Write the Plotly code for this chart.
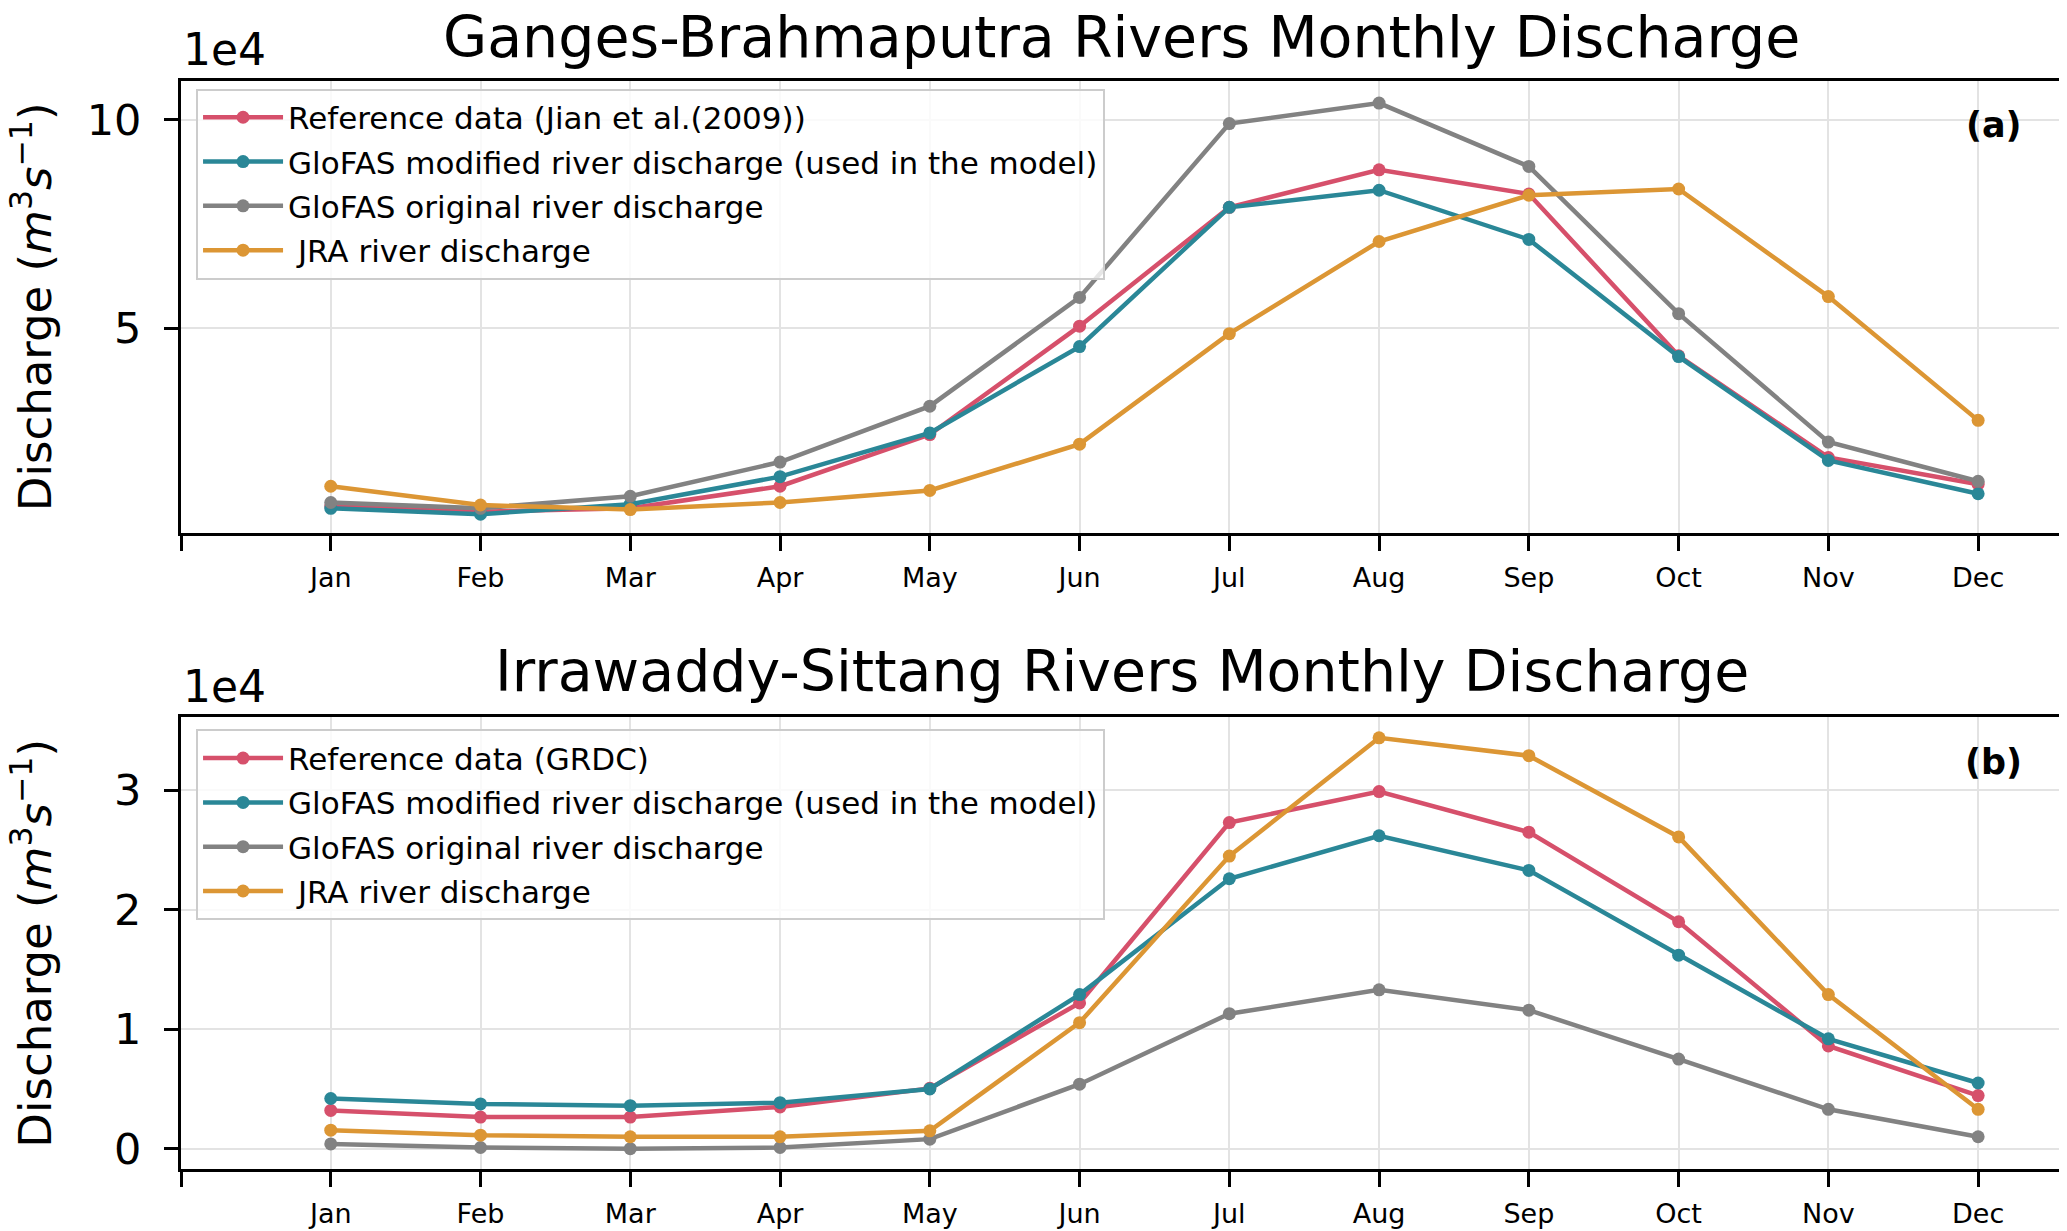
import plotly.graph_objects as go

# Monthly discharge, in units of 1e4 m3/s
months = ['Jan', 'Feb', 'Mar', 'Apr', 'May', 'Jun', 'Jul', 'Aug', 'Sep', 'Oct', 'Nov', 'Dec']

# (a) Ganges-Brahmaputra
gb_reference = [0.74, 0.60, 0.68, 1.21, 2.45, 5.05, 7.90, 8.80, 8.22, 4.34, 1.90, 1.26]
gb_glofas_mod = [0.68, 0.54, 0.78, 1.44, 2.49, 4.56, 7.90, 8.31, 7.13, 4.32, 1.83, 1.03]
gb_glofas_orig = [0.82, 0.68, 0.97, 1.79, 3.13, 5.74, 9.91, 10.40, 8.88, 5.35, 2.27, 1.33]
gb_jra = [1.21, 0.76, 0.65, 0.82, 1.11, 2.22, 4.87, 7.08, 8.19, 8.34, 5.76, 2.79]

# (b) Irrawaddy-Sittang
is_reference = [0.32, 0.265, 0.265, 0.35, 0.505, 1.22, 2.73, 2.99, 2.65, 1.90, 0.86, 0.445]
is_glofas_mod = [0.42, 0.375, 0.36, 0.385, 0.50, 1.29, 2.26, 2.62, 2.33, 1.62, 0.92, 0.55]
is_glofas_orig = [0.04, 0.01, 0.00, 0.01, 0.08, 0.54, 1.13, 1.33, 1.16, 0.75, 0.33, 0.10]
is_jra = [0.155, 0.113, 0.10, 0.10, 0.15, 1.055, 2.45, 3.44, 3.29, 2.61, 1.29, 0.33]

names_a = ['Reference data (Jian et al.(2009))',
           'GloFAS modified river discharge (used in the model)',
           'GloFAS original river discharge',
           ' JRA river discharge']
names_b = ['Reference data (GRDC)'] + names_a[1:]

colors = ['#d6506b', '#2a8797', '#828282', '#dc9634']
FONT = 'DejaVu Sans'
x = list(range(len(months)))

fig = go.Figure()

panels = [
    ('x', 'y', 'legend', 'a', names_a, [gb_reference, gb_glofas_mod, gb_glofas_orig, gb_jra]),
    ('x2', 'y2', 'legend2', 'b', names_b, [is_reference, is_glofas_mod, is_glofas_orig, is_jra]),
]
for xa, ya, leg, tag, names, data in panels:
    for i, (series, name, color) in enumerate(zip(data, names, colors)):
        # one legend group per line so tracegroupgap can open up the legend rows
        fig.add_trace(go.Scatter(
            x=x, y=series, name=name, mode='lines+markers',
            line=dict(color=color, width=4.5), marker=dict(color=color, size=13),
            xaxis=xa, yaxis=ya, legend=leg, legendgroup=f'{tag}{i}'
        ))

xaxis_common = dict(
    range=[-1, 11.56],
    tickvals=[-1] + x, ticktext=[''] + months,
    ticks='outside', ticklen=15, tickwidth=2.5, tickcolor='black',
    tickfont=dict(family=FONT, size=27, color='black'),
    ticklabelstandoff=4,
    showgrid=True, gridcolor='#e3e3e3', gridwidth=1.8,
    showline=True, linecolor='black', linewidth=3, mirror=True,
    zeroline=False,
)
yaxis_common = dict(
    ticks='outside', ticklen=14, tickwidth=2.5, tickcolor='black',
    tickfont=dict(family=FONT, size=43, color='black'),
    ticklabelstandoff=14,
    showgrid=True, gridcolor='#e3e3e3', gridwidth=1.8,
    showline=True, linecolor='black', linewidth=3, mirror=True,
    zeroline=False,
)

legend_common = dict(
    font=dict(family=FONT, size=31, color='black'),
    bgcolor='rgba(255,255,255,0.8)', bordercolor='#cccccc', borderwidth=2,
    xanchor='left', yanchor='top', x=0.008,
    itemwidth=80, tracegroupgap=1,
)

ytitle = 'Discharge (<i>m</i><sup>3</sup><i>s</i><sup>\u22121</sup>)'

fig.update_layout(
    width=2067, height=1231,
    margin=dict(l=173, r=10, t=73, b=64),
    paper_bgcolor='white', plot_bgcolor='white',
    font=dict(family=FONT, color='black'),
    xaxis=dict(xaxis_common, domain=[0, 1], anchor='y'),
    yaxis=dict(yaxis_common, domain=[0.585, 1.0], anchor='x', range=[0.1, 10.93], tickvals=[5, 10]),
    xaxis2=dict(xaxis_common, domain=[0, 1], anchor='y2'),
    yaxis2=dict(yaxis_common, domain=[0, 0.415], anchor='x2', range=[-0.17, 3.61], tickvals=[0, 1, 2, 3]),
    legend=dict(legend_common, y=0.993),
    legend2=dict(legend_common, y=0.404),
    annotations=[
        dict(text='Ganges-Brahmaputra Rivers Monthly Discharge', xref='paper', yref='paper',
             x=0.5, y=1.008, xanchor='center', yanchor='bottom', showarrow=False,
             font=dict(family=FONT, size=57)),
        dict(text='Irrawaddy-Sittang Rivers Monthly Discharge', xref='paper', yref='paper',
             x=0.5, y=0.426, xanchor='center', yanchor='bottom', showarrow=False,
             font=dict(family=FONT, size=57)),
        dict(text='1e4', xref='paper', yref='paper', x=0, y=1.004,
             xanchor='left', yanchor='bottom', showarrow=False, font=dict(family=FONT, size=44)),
        dict(text='1e4', xref='paper', yref='paper', x=0, y=0.418,
             xanchor='left', yanchor='bottom', showarrow=False, font=dict(family=FONT, size=44)),
        dict(text='<b>(a)</b>', xref='paper', yref='paper', x=0.980, y=0.960,
             xanchor='right', yanchor='middle', showarrow=False, font=dict(family=FONT, size=35)),
        dict(text='<b>(b)</b>', xref='paper', yref='paper', x=0.980, y=0.374,
             xanchor='right', yanchor='middle', showarrow=False, font=dict(family=FONT, size=35)),
        dict(text=ytitle, xref='paper', yref='paper', x=-0.079, y=0.7925, textangle=-90,
             xanchor='center', yanchor='middle', showarrow=False, font=dict(family=FONT, size=45)),
        dict(text=ytitle, xref='paper', yref='paper', x=-0.079, y=0.2075, textangle=-90,
             xanchor='center', yanchor='middle', showarrow=False, font=dict(family=FONT, size=45)),
    ],
)

fig.write_html('out.html')
